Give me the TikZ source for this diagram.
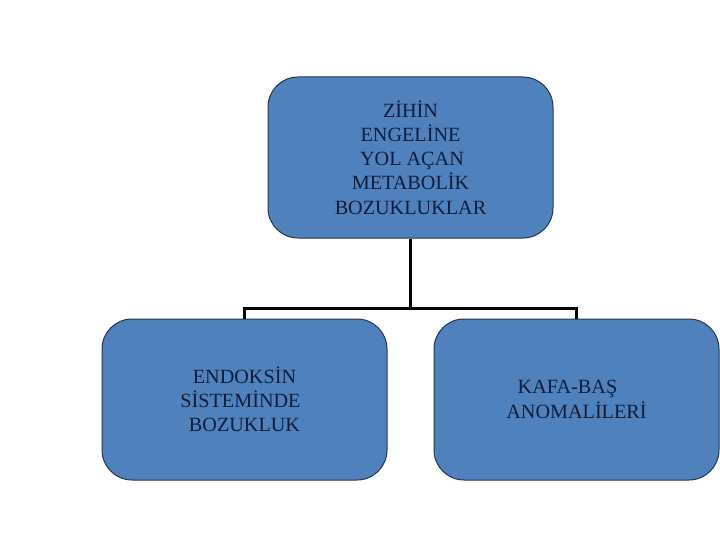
\documentclass[tikz,border=0pt]{standalone}
\usepackage{fontspec}
\setmainfont{Liberation Serif}
\definecolor{boxfill}{HTML}{4F81BD}
\definecolor{boxedge}{HTML}{24364F}
\definecolor{txt}{HTML}{0F1D3A}
\newcommand{\shiftline}[2]{\hspace*{#1}#2\hspace*{-#1}}
\begin{document}
\begin{tikzpicture}[x=1pt,y=-1pt,
  box/.style={draw=boxedge, line width=1pt, fill=boxfill, rounded corners=30pt,
    minimum width=285pt, minimum height=161pt, inner sep=0pt, align=center,
    text=txt, font=\fontsize{20.2}{24.2}\selectfont},
  conn/.style={draw=black, line width=3pt}]
\useasboundingbox (0,0) rectangle (720,540);
\node[box] (top) at (410.5,157.5) {ZİHİN\\ENGELİNE\\\shiftline{3pt}{YOL AÇAN}\\METABOLİK\\BOZUKLUKLAR};
\node[box] (left) at (244.5,399.5) {ENDOKSİN\\\shiftline{-8pt}{SİSTEMİNDE}\\BOZUKLUK};
\node[box] (right) at (576.5,399.5) {\shiftline{-9pt}{KAFA-BAŞ}\\ANOMALİLERİ};
\coordinate (j) at (410.5,308);
\draw[conn] (top.south) -- (j) -| (left.north);
\draw[conn] (j) -| (right.north);
\end{tikzpicture}
\end{document}
